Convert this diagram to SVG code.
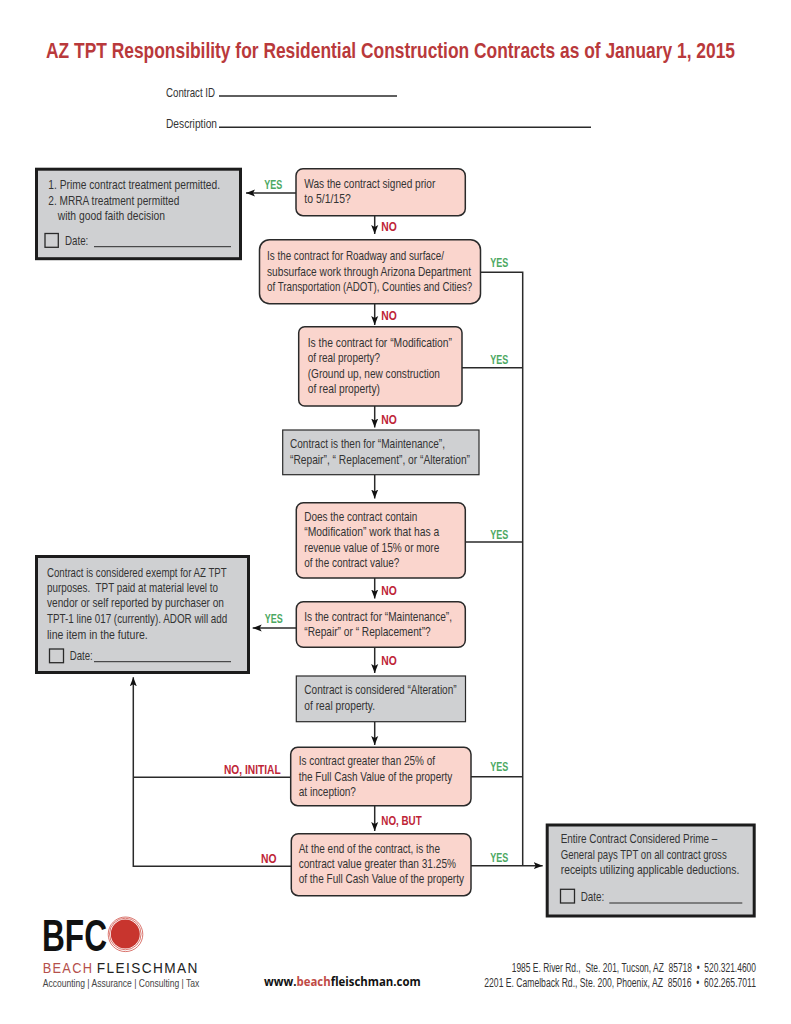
<svg xmlns="http://www.w3.org/2000/svg" width="791" height="1024" viewBox="0 0 791 1024">
<style>
text{font-family:"Liberation Sans Narrow","Liberation Sans",Arial,sans-serif;fill:#333}
.t{font-size:13.500px}
.q{fill:#fad5cd;stroke:#2a2a2a;stroke-width:1.500}
.g{fill:#cfd0d2;stroke:#2a2a2a;stroke-width:1.200}
.b{fill:#cfd0d2;stroke:#1c1c1c;stroke-width:3}
.c{fill:none;stroke:#2a2a2a;stroke-width:1.500}
.u{stroke:#2a2a2a;stroke-width:1;fill:none}
.cb{fill:none;stroke:#2a2a2a;stroke-width:1.300}
.y{font-size:13.500px;font-weight:bold;fill:#4ca862}
.n{font-size:13.500px;font-weight:bold;fill:#be2436}
.w{font-family:"Liberation Sans",Arial,sans-serif;font-size:14.500px}
</style>
<defs><marker id="a" markerUnits="userSpaceOnUse" markerWidth="10" markerHeight="8" refX="9" refY="4" orient="auto"><path d="M0 0.500L9 4L0 7.500L2 4Z" fill="#111"/></marker></defs>
<rect width="791" height="1024" fill="#fff"/>
<text x="46" y="58.300" font-size="22" font-weight="bold" style="fill:#b9393b" textLength="689" lengthAdjust="spacingAndGlyphs">AZ TPT Responsibility for Residential Construction Contracts as of January 1, 2015</text>
<text class="t" x="166" y="97" textLength="49" lengthAdjust="spacingAndGlyphs">Contract ID</text>
<path class="c" d="M219 96H397"/>
<text class="t" x="166" y="128.300" textLength="51" lengthAdjust="spacingAndGlyphs">Description</text>
<path class="c" d="M219 127.300H591"/>
<g id="connectors">
<path class="c" marker-end="url(#a)" d="M296 193H246"/>
<path class="c" marker-end="url(#a)" d="M374.700 216V234"/>
<path class="c" marker-end="url(#a)" d="M374.700 304V325"/>
<path class="c" marker-end="url(#a)" d="M374.700 406V427.500"/>
<path class="c" marker-end="url(#a)" d="M374.700 475V498.500"/>
<path class="c" marker-end="url(#a)" d="M374.700 578V598.500"/>
<path class="c" marker-end="url(#a)" d="M374.700 647V673"/>
<path class="c" marker-end="url(#a)" d="M374.700 722V745"/>
<path class="c" marker-end="url(#a)" d="M374.700 806V831"/>
<path class="c" marker-end="url(#a)" d="M296 628H252.700"/>
<path class="c" d="M480 272.300H522.700V865.700"/>
<path class="c" d="M462 367.700H522.700"/>
<path class="c" d="M465 542H522.700"/>
<path class="c" d="M471 776.800H522.700"/>
<path class="c" marker-end="url(#a)" d="M471 865.700H542.700"/>
<path class="c" d="M290.700 777.300H133.300"/>
<path class="c" marker-end="url(#a)" d="M291.300 866.300H133.300V677.300"/>
</g>
<g id="labels">
<text class="y" x="264.300" y="189.300" textLength="18" lengthAdjust="spacingAndGlyphs">YES</text>
<text class="n" x="381.300" y="231" textLength="15.500" lengthAdjust="spacingAndGlyphs">NO</text>
<text class="y" x="490.300" y="267.300" textLength="18" lengthAdjust="spacingAndGlyphs">YES</text>
<text class="n" x="381.300" y="319.700" textLength="15.500" lengthAdjust="spacingAndGlyphs">NO</text>
<text class="y" x="490.300" y="364.300" textLength="18" lengthAdjust="spacingAndGlyphs">YES</text>
<text class="n" x="381.300" y="424" textLength="15.500" lengthAdjust="spacingAndGlyphs">NO</text>
<text class="y" x="490.300" y="539" textLength="18" lengthAdjust="spacingAndGlyphs">YES</text>
<text class="n" x="381.300" y="594.500" textLength="15.500" lengthAdjust="spacingAndGlyphs">NO</text>
<text class="y" x="264.700" y="623.300" textLength="18" lengthAdjust="spacingAndGlyphs">YES</text>
<text class="n" x="381.300" y="665.300" textLength="15.500" lengthAdjust="spacingAndGlyphs">NO</text>
<text class="y" x="490.300" y="771" textLength="18" lengthAdjust="spacingAndGlyphs">YES</text>
<text class="n" x="224" y="774" textLength="56.700" lengthAdjust="spacingAndGlyphs">NO, INITIAL</text>
<text class="n" x="381.300" y="825" textLength="40.400" lengthAdjust="spacingAndGlyphs">NO, BUT</text>
<text class="n" x="261" y="862.700" textLength="15.500" lengthAdjust="spacingAndGlyphs">NO</text>
<text class="y" x="490.300" y="861.700" textLength="18" lengthAdjust="spacingAndGlyphs">YES</text>
</g>
<g id="box1"><rect class="b" x="36.500" y="169.200" width="204" height="89.500"/>
<text class="t" x="48.300" y="189" textLength="171.700" lengthAdjust="spacingAndGlyphs">1. Prime contract treatment permitted.</text>
<text class="t" x="48.300" y="204.700" textLength="131" lengthAdjust="spacingAndGlyphs">2. MRRA treatment permitted</text>
<text class="t" x="57.700" y="220.300" textLength="107.300" lengthAdjust="spacingAndGlyphs">with good faith decision</text>
<rect class="cb" x="45" y="233.500" width="13.300" height="13.800"/>
<text class="t" x="65" y="245" textLength="23.300" lengthAdjust="spacingAndGlyphs">Date:</text>
<path class="u" d="M94 246.700H231"/></g>
<g id="q1"><rect class="q" x="296" y="168.700" width="169.300" height="47" rx="7"/>
<text class="t" x="304.300" y="187.500" textLength="131" lengthAdjust="spacingAndGlyphs">Was the contract signed prior</text>
<text class="t" x="304.300" y="203" textLength="46.500" lengthAdjust="spacingAndGlyphs">to 5/1/15?</text></g>
<g id="q2"><rect class="q" x="259.500" y="239.700" width="221" height="64" rx="10"/>
<text class="t" x="267" y="260" textLength="177" lengthAdjust="spacingAndGlyphs">Is the contract for Roadway and surface/</text>
<text class="t" x="267" y="275.700" textLength="204" lengthAdjust="spacingAndGlyphs">subsurface work through Arizona Department</text>
<text class="t" x="267" y="291" textLength="205.300" lengthAdjust="spacingAndGlyphs">of Transportation (ADOT), Counties and Cities?</text></g>
<g id="q3"><rect class="q" x="298.700" y="326.700" width="163.300" height="79.300" rx="6"/>
<text class="t" x="307.700" y="346.700" textLength="144.300" lengthAdjust="spacingAndGlyphs">Is the contract for “Modification”</text>
<text class="t" x="307.700" y="362.300" textLength="72.300" lengthAdjust="spacingAndGlyphs">of real property?</text>
<text class="t" x="307.700" y="377.700" textLength="132.300" lengthAdjust="spacingAndGlyphs">(Ground up, new construction</text>
<text class="t" x="307.700" y="393.300" textLength="72.300" lengthAdjust="spacingAndGlyphs">of real property)</text></g>
<g id="s1"><rect class="g" x="282.700" y="430" width="196.300" height="44.700"/>
<text class="t" x="290" y="448.300" textLength="155" lengthAdjust="spacingAndGlyphs">Contract is then for “Maintenance”,</text>
<text class="t" x="290" y="464" textLength="180" lengthAdjust="spacingAndGlyphs">“Repair”,  “ Replacement”, or “Alteration”</text></g>
<g id="q4"><rect class="q" x="296.300" y="502.700" width="169" height="75.300" rx="7"/>
<text class="t" x="304.300" y="520.700" textLength="113" lengthAdjust="spacingAndGlyphs">Does the contract contain</text>
<text class="t" x="304.300" y="536" textLength="135" lengthAdjust="spacingAndGlyphs">“Modification” work that has a</text>
<text class="t" x="304.300" y="551.700" textLength="135" lengthAdjust="spacingAndGlyphs">revenue value of 15% or more</text>
<text class="t" x="304.300" y="567" textLength="95" lengthAdjust="spacingAndGlyphs">of the contract value?</text></g>
<g id="box2"><rect class="b" x="36.500" y="556.500" width="212" height="116"/>
<text class="t" x="47" y="576.700" textLength="179.700" lengthAdjust="spacingAndGlyphs">Contract is considered exempt for AZ TPT</text>
<text class="t" x="47" y="592" textLength="171" lengthAdjust="spacingAndGlyphs" xml:space="preserve">purposes.  TPT paid at material level to</text>
<text class="t" x="47" y="607.300" textLength="177" lengthAdjust="spacingAndGlyphs">vendor or self reported by purchaser on</text>
<text class="t" x="47" y="623" textLength="180.300" lengthAdjust="spacingAndGlyphs">TPT-1 line 017 (currently). ADOR will add</text>
<text class="t" x="47" y="638.700" textLength="100.700" lengthAdjust="spacingAndGlyphs">line item in the future.</text>
<rect class="cb" x="49.500" y="649" width="14" height="13.700"/>
<text class="t" x="69.700" y="660.300" textLength="23" lengthAdjust="spacingAndGlyphs">Date:</text>
<path class="u" d="M94 661.700H231"/></g>
<g id="q5"><rect class="q" x="296.300" y="601.700" width="169" height="45.600" rx="7"/>
<text class="t" x="304.300" y="620.700" textLength="147.700" lengthAdjust="spacingAndGlyphs">Is the contract for “Maintenance”,</text>
<text class="t" x="304.300" y="636.300" textLength="126.400" lengthAdjust="spacingAndGlyphs">“Repair” or “ Replacement”?</text></g>
<g id="s2"><rect class="g" x="296.300" y="676" width="169.200" height="45.700"/>
<text class="t" x="304.300" y="694" textLength="152.400" lengthAdjust="spacingAndGlyphs">Contract is considered “Alteration”</text>
<text class="t" x="304.300" y="709.700" textLength="70.700" lengthAdjust="spacingAndGlyphs">of real property.</text></g>
<g id="q6"><rect class="q" x="290.700" y="747.300" width="180.300" height="58.400" rx="7"/>
<text class="t" x="298.700" y="765" textLength="136.300" lengthAdjust="spacingAndGlyphs">Is contract greater than 25% of</text>
<text class="t" x="298.700" y="780.700" textLength="153.600" lengthAdjust="spacingAndGlyphs">the Full Cash Value of the property</text>
<text class="t" x="298.700" y="796" textLength="57.300" lengthAdjust="spacingAndGlyphs">at inception?</text></g>
<g id="q7"><rect class="q" x="291.300" y="833.700" width="179.700" height="62" rx="7"/>
<text class="t" x="298.700" y="852.700" textLength="141.300" lengthAdjust="spacingAndGlyphs">At the end of the contract, is the</text>
<text class="t" x="298.700" y="868.300" textLength="157.300" lengthAdjust="spacingAndGlyphs">contract value greater than 31.25%</text>
<text class="t" x="298.700" y="883.300" textLength="165.300" lengthAdjust="spacingAndGlyphs">of the Full Cash Value of the property</text></g>
<g id="box3"><rect class="b" x="547.200" y="825" width="207" height="91"/>
<text class="t" x="560.700" y="843.300" textLength="156.600" lengthAdjust="spacingAndGlyphs">Entire Contract Considered Prime –</text>
<text class="t" x="560.700" y="859" textLength="166" lengthAdjust="spacingAndGlyphs">General pays TPT on all contract gross</text>
<text class="t" x="560.700" y="874.300" textLength="178.600" lengthAdjust="spacingAndGlyphs">receipts utilizing applicable deductions.</text>
<rect class="cb" x="560.500" y="889.300" width="14" height="13.700"/>
<text class="t" x="580.700" y="900.700" textLength="23.600" lengthAdjust="spacingAndGlyphs">Date:</text>
<path class="u" d="M609.300 903H742.300"/></g>
<g id="logo">
<text x="42" y="951" font-size="45" font-weight="bold" style="fill:#111" textLength="65" lengthAdjust="spacingAndGlyphs">BFC</text>
<circle cx="125.300" cy="934" r="14.500" fill="#c8352e"/>
<circle cx="125.300" cy="934" r="15.800" fill="none" stroke="#d0534a" stroke-width="0.800"/>
<circle cx="125.500" cy="934.300" r="17.300" fill="none" stroke="#d0534a" stroke-width="0.800"/>
<text class="w" x="42.700" y="973.300" style="fill:#b5504c" textLength="50.600" lengthAdjust="spacingAndGlyphs" letter-spacing="1.500">BEACH</text>
<text class="w" x="96.700" y="973.300" style="fill:#222" textLength="102" lengthAdjust="spacingAndGlyphs" letter-spacing="1.500">FLEISCHMAN</text>
<text x="42.700" y="987.300" font-size="11.500" style="fill:#444" textLength="156.600" lengthAdjust="spacingAndGlyphs">Accounting | Assurance | Consulting | Tax</text>
</g>
<text x="264" y="986" font-size="12" font-weight="bold" style="font-family:'Open Sans','DejaVu Sans',sans-serif;fill:#111" textLength="156.700" lengthAdjust="spacingAndGlyphs">www.<tspan style="fill:#bf4a45">beach</tspan>fleischman.com</text>
<text x="511.700" y="972" style="font-size:12.500px" textLength="244.300" lengthAdjust="spacingAndGlyphs" xml:space="preserve">1985 E. River Rd.,  Ste. 201, Tucson, AZ  85718  •  520.321.4600</text>
<text x="484.300" y="987.300" style="font-size:12.500px" textLength="271.700" lengthAdjust="spacingAndGlyphs" xml:space="preserve">2201 E. Camelback Rd., Ste. 200, Phoenix, AZ  85016  •  602.265.7011</text>
</svg>
